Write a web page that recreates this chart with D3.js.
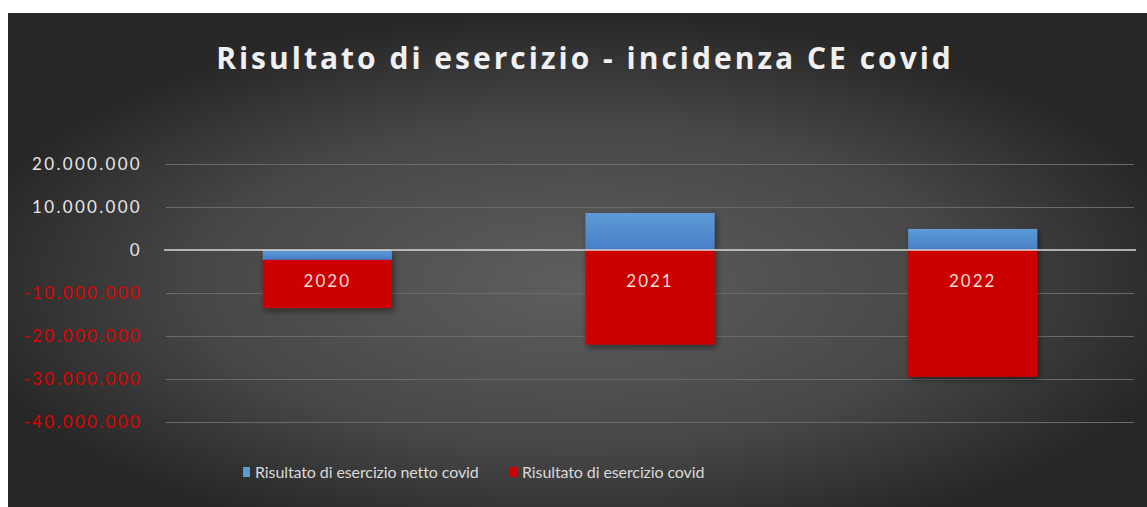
<!DOCTYPE html>
<html><head><meta charset="utf-8">
<script src="https://cdn.jsdelivr.net/npm/d3@7"></script>
<style>body{margin:0;background:#fff}svg{display:block}</style>
</head><body>
<svg id="c" width="1147" height="507"></svg>
<script>
const categories = ["2020", "2021", "2022"];
const seriesNames = ["Risultato di esercizio netto covid", "Risultato di esercizio covid"];
const nettoCovid = [-2300000, 8600000, 4900000];
const covid = [-11200000, -22000000, -29500000];
const yTicks = [20000000, 10000000, 0, -10000000, -20000000, -30000000, -40000000];
const title = "Risultato di esercizio - incidenza CE covid";

const W = 1147, H = 507;
const svg = d3.select("#c");
const defs = svg.append("defs");
const rg = defs.append("radialGradient").attr("id", "bg").attr("cx", "0.5").attr("cy", "0.55").attr("r", "0.55");
rg.append("stop").attr("offset", "0").attr("stop-color", "#5e5e5e");
rg.append("stop").attr("offset", "0.6").attr("stop-color", "#474747");
rg.append("stop").attr("offset", "1").attr("stop-color", "#272727");
const bg1 = defs.append("linearGradient").attr("id", "gBlue").attr("x1", 0).attr("x2", 0).attr("y1", 0).attr("y2", 1);
bg1.append("stop").attr("offset", 0).attr("stop-color", "#5b9bd5");
bg1.append("stop").attr("offset", 1).attr("stop-color", "#4a7fc8");
const f = defs.append("filter").attr("id", "sh").attr("x", "-10%").attr("y", "-10%").attr("width", "130%").attr("height", "130%");
f.append("feDropShadow").attr("dx", 2).attr("dy", 3).attr("stdDeviation", 3).attr("flood-color", "#000").attr("flood-opacity", 0.45);

svg.append("rect").attr("x", 8).attr("y", 13).attr("width", W - 8).attr("height", H - 13).attr("fill", "url(#bg)");

const x = d3.scaleBand().domain(categories).range([166, 1134]).paddingInner(0.6).paddingOuter(0.3);
const y = d3.scaleLinear().domain([-40000000, 20000000]).range([422, 164]);

const loc = d3.formatLocale({decimal: ",", thousands: ".", grouping: [3], currency: ["€", ""], minus: "-"});
const fmt = loc.format(",.0f");

// gridlines
svg.append("g").selectAll("line").data(yTicks.filter(d => d !== 0)).join("line")
  .attr("x1", 166).attr("x2", 1134).attr("y1", d => y(d) + 0.5).attr("y2", d => y(d) + 0.5)
  .attr("stroke", "#6a6a6a").attr("stroke-width", 1);

// y axis labels
const yAxis = d3.axisLeft(y).tickValues(yTicks).tickSize(0).tickPadding(0).tickFormat(fmt);
const ga = svg.append("g").attr("transform", "translate(142,0)").call(yAxis);
ga.select(".domain").remove();
ga.selectAll("text").attr("font-family", "Lato, 'Open Sans', sans-serif").attr("font-size", 17)
  .attr("letter-spacing", "2.3px")
  .attr("fill", d => d < 0 ? "#e00000" : "#e6e6e6").attr("dy", "0.35em");

// stacked bars
const rows = categories.map((c, i) => ({cat: c, netto: nettoCovid[i], covid: covid[i]}));
const stack = d3.stack().keys(["netto", "covid"]).offset(d3.stackOffsetDiverging);
const series = stack(rows);
const colors = ["url(#gBlue)", "#cc0000"];
svg.append("g").selectAll("g").data(series).join("g")
  .attr("fill", (d, i) => colors[i]).attr("filter", "url(#sh)")
  .selectAll("rect").data(d => d).join("rect")
  .attr("x", d => x(d.data.cat))
  .attr("width", x.bandwidth())
  .attr("y", d => y(Math.max(d[0], d[1])))
  .attr("height", d => Math.abs(y(d[0]) - y(d[1])));

// zero line
svg.append("line").attr("x1", 164).attr("x2", 1136).attr("y1", y(0)).attr("y2", y(0))
  .attr("stroke", "#d8d8d8").attr("stroke-width", 1.5);

// category labels
const xAxis = d3.axisBottom(x).tickSize(0).tickPadding(25);
const gx = svg.append("g").attr("transform", `translate(0,${y(0)})`).call(xAxis);
gx.select(".domain").remove();
gx.selectAll("text").attr("font-family", "Lato, 'Open Sans', sans-serif").attr("font-size", 17)
  .attr("letter-spacing", "2px").attr("fill", "#f4dcdc");

// title
svg.append("text").attr("x", 585).attr("y", 69).attr("text-anchor", "middle")
  .attr("font-family", "'Open Sans', Lato, sans-serif").attr("font-weight", "bold").attr("font-size", 30)
  .attr("letter-spacing", "3px").attr("fill", "#f0f0f0").text(title);

// legend
const legX = [243, 510];
const lcol = ["#5b9bd5", "#cc0000"];
const lg = svg.append("g").selectAll("g").data(seriesNames).join("g")
  .attr("transform", (d, i) => `translate(${legX[i]},472)`);
lg.append("rect").attr("x", 0).attr("y", -5).attr("width", 7).attr("height", 10).attr("fill", (d, i) => lcol[i]);
lg.append("text").attr("x", 12).attr("dy", "0.35em").attr("font-family", "Lato, 'Open Sans', sans-serif")
  .attr("font-size", 16).attr("letter-spacing", "-0.1px").attr("fill", "#d9d9d9").text(d => d);
</script>
</body></html>
